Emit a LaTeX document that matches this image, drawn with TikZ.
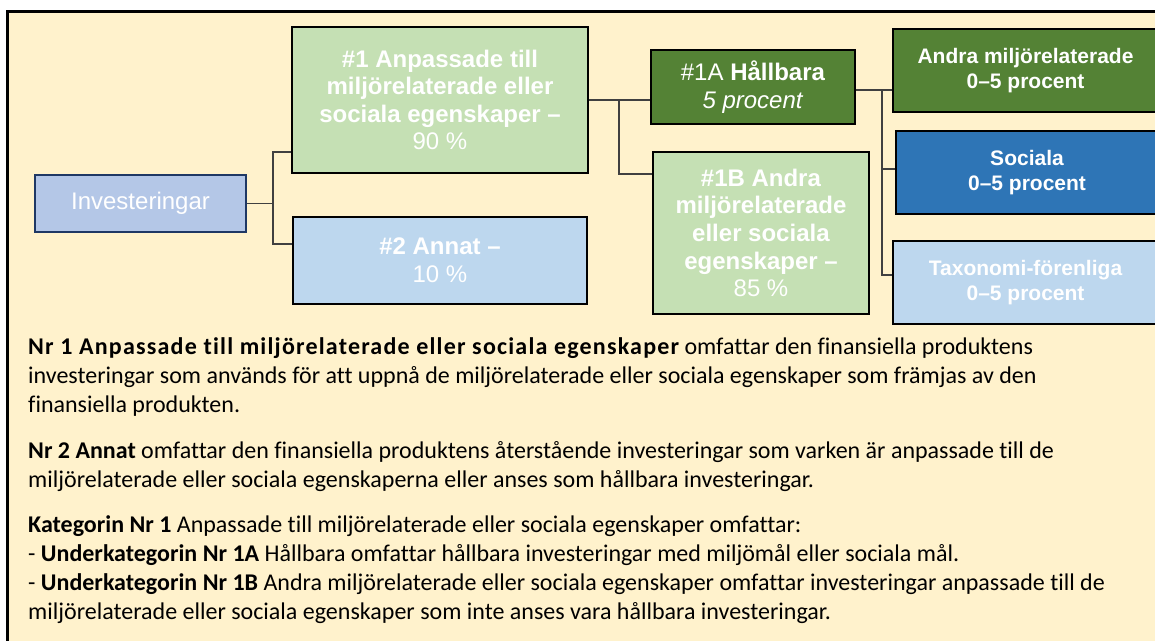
\documentclass[tikz,border=0pt]{standalone}
\usepackage{fontspec}
\setmainfont{Carlito}[Ligatures=CommonOff]
\newfontfamily\arialf{Liberation Sans}
\definecolor{bg}{HTML}{FFF2CC}
\definecolor{lgreen}{HTML}{C5E0B4}
\definecolor{dgreen}{HTML}{548235}
\definecolor{lblue}{HTML}{BDD7EE}
\definecolor{mblue}{HTML}{2E75B6}
\definecolor{invfill}{HTML}{B4C7E7}
\definecolor{invline}{HTML}{1F3864}
\definecolor{connc}{HTML}{404040}
\newcommand{\widebf}[1]{{\bfseries\addfontfeature{LetterSpace=5}#1}}
\begin{document}
\begin{tikzpicture}[x=1pt,y=-1pt,
  box/.style={draw=black, line width=2.5pt, inner sep=0pt, align=center, text=white,
    font=\arialf\fontsize{24}{27.6}\selectfont},
  rbox/.style={box, font=\arialf\bfseries\fontsize{21}{24.5}\selectfont},
  conn/.style={draw=connc, line width=1.5pt},
  body/.style={anchor=base west, inner sep=0pt, font=\fontsize{24}{29}\selectfont, text=black}]
\useasboundingbox (0,0) rectangle (1155,640);
\clip (0,0) rectangle (1155,640);
\fill[white] (0,0) rectangle (1155,640);
\draw[line width=3pt, fill=bg] (7,11) rectangle (1200,700);

% boxes
\node[box, fill=invfill, draw=invline, line width=2pt, minimum width=211pt, minimum height=57pt]
  (inv) at (140.5,203.5) {Investeringar};
\node[box, fill=lgreen, minimum width=296pt, minimum height=146pt] (n1) at (440,100)
  {\textbf{\#1 Anpassade till}\\ \textbf{miljörelaterade eller}\\ \textbf{sociala egenskaper –}\\ 90 \%};
\node[box, fill=lblue, minimum width=294pt, minimum height=87pt] (n2) at (440,260.5)
  {\textbf{\#2 Annat –}\\ 10 \%};
\node[box, fill=dgreen, minimum width=204pt, minimum height=74pt] (n1a) at (753,87)
  {\#1A \textbf{Hållbara}\\ \textit{5 procent}};
\node[box, fill=lgreen, minimum width=216pt, minimum height=162pt] (n1b) at (761,233)
  {\textbf{\#1B Andra}\\ \textbf{miljörelaterade}\\ \textbf{eller sociala}\\ \textbf{egenskaper –}\\ 85 \%};
\node[rbox, fill=dgreen, minimum width=265pt, minimum height=83pt] (ra) at (1025.5,70.5)
  {Andra miljörelaterade\\ 0–5 procent};
\node[rbox, fill=mblue, minimum width=262pt, minimum height=83pt] (rs) at (1027,172.5)
  {Sociala\\ 0–5 procent};
\node[rbox, fill=lblue, minimum width=265pt, minimum height=83pt] (rt) at (1025.5,282.5)
  {Taxonomi-förenliga\\ 0–5 procent};

% connectors
\draw[conn] (inv.east) -- (inv.east -| 273,0);
\draw[conn] (n1.west |- 0,152) -| (273,244) -- (n2.west |- 0,244);
\draw[conn] (n1.east |- 0,100) -- (n1a.west |- 0,100);
\draw[conn] (619,100) |- (n1b.west |- 0,174);
\draw[conn] (n1a.east |- 0,90) -- (ra.west |- 0,90);
\draw[conn] (882,90) |- (rt.west |- 0,275);
\draw[conn] (882,169) -- (rs.west |- 0,169);

% body text
\node[body] (t1) at (28,354) {\widebf{Nr 1 Anpassade till miljörelaterade eller sociala egenskaper} omfattar den finansiella produktens};
\node[body] (t2) at (28,383) {investeringar som används för att uppnå de miljörelaterade eller sociala egenskaper som främjas av den};
\node[body] (t3) at (28,412) {finansiella produkten.};
\node[body] (t4) at (28,458) {\textbf{Nr 2 Annat} omfattar den finansiella produktens återstående investeringar som varken är anpassade till de};
\node[body] (t5) at (28,487) {miljörelaterade eller sociala egenskaperna eller anses som hållbara investeringar.};
\node[body] (t6) at (28,532) {\textbf{Kategorin Nr 1} Anpassade till miljörelaterade eller sociala egenskaper omfattar:};
\node[body] (t7) at (28,561) {- \textbf{Underkategorin Nr 1A} Hållbara omfattar hållbara investeringar med miljömål eller sociala mål.};
\node[body] (t8) at (28,590) {- \textbf{Underkategorin Nr 1B} Andra miljörelaterade eller sociala egenskaper omfattar investeringar anpassade till de};
\node[body] (t9) at (28,619) {miljörelaterade eller sociala egenskaper som inte anses vara hållbara investeringar.};
\end{tikzpicture}
\end{document}
